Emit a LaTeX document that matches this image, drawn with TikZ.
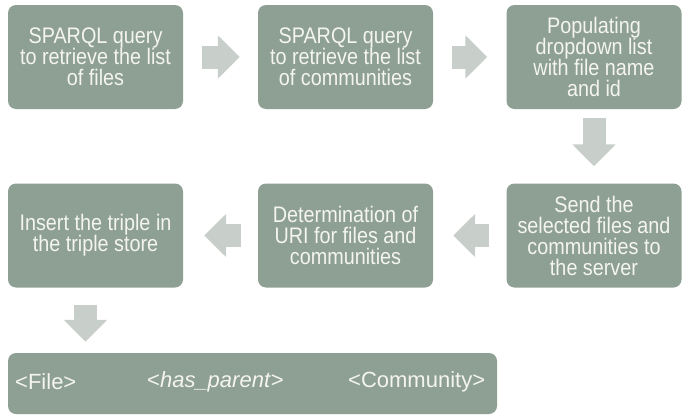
\documentclass[tikz,border=0pt]{standalone}
\usepackage{fontspec}
\setmainfont[FakeStretch=0.88]{Liberation Sans}
\newfontfamily\plainsans{Liberation Sans}
\usepackage{xcolor}
\definecolor{Sage}{HTML}{8E9F93}
\definecolor{Mist}{HTML}{C8CEC9}
\definecolor{Chalk}{HTML}{F4F4F0}
\colorlet{cBox}{Sage}
\colorlet{cArrow}{Mist}
\colorlet{cText}{Chalk}
\usetikzlibrary{arrows.meta, positioning}
\tikzset{
	font = {\fontsize{22.5}{21}\selectfont},
	stage/.style={
		fill=cBox,
		rounded corners=8pt,
		text=cText,
		minimum width=175pt,
		minimum height=104pt,
		align=center,
		inner sep=2pt
	},
	flow/.style={
		draw=cArrow,
		line width=23pt,
		-{Triangle[length=22pt, width=42pt]}
	},
	tag/.style={
		anchor=west,
		text=cText,
		font={\plainsans\fontsize{22}{21}\selectfont},
		inner sep=2pt
	}
}

\begin{document}
\begin{tikzpicture}[x=1pt, y=-1pt]
		\useasboundingbox (0,0) rectangle (682,415);

		\node[stage] (b1) at (95.5,57) {SPARQL query\\to retrieve the list\\of files};
		\node[stage] (b2) at (345.5,57) {SPARQL query\\to retrieve the list\\of communities};
		\node[stage] (b3) at (594,57) {Populating\\dropdown list\\with file name\\and id};

		\node[stage] (b4) at (95.5,235.5) {Insert the triple in\\the triple store};
		\node[stage] (b5) at (345.5,235.5) {Determination of\\URI for files and\\communities};
		\node[stage] (b6) at (594,235.5) {Send the\\selected files and\\communities to\\the server};

		% triple
		\node[stage, minimum width=489pt, minimum height=61pt] (bot) at (252.5,383.5) {};
		\node[tag] (file) at (13,382) {<File>};
		\node[tag] (rel) at (145,382) {<\textit{has\_parent}>};
		\node[tag] (comm) at (346,382) {<Community>};

		\draw[flow, shorten <=19pt, shorten >=18pt] (b1) -- (b2);
		\draw[flow, shorten <=19pt, shorten >=19pt] (b2) -- (b3);
		\draw[flow, shorten <=9pt, shorten >=17pt] (b3) -- (b6);
		\draw[flow, shorten <=17pt, shorten >=20pt] (b6) -- (b5);
		\draw[flow, shorten <=17pt, shorten >=21pt] (b5) -- (b4);
		\draw[flow, shorten <=17pt, shorten >=11pt] ([xshift=-10pt]b4.south) -- ([xshift=-10pt]b4.south |- bot.north);
	\end{tikzpicture}
\end{document}
